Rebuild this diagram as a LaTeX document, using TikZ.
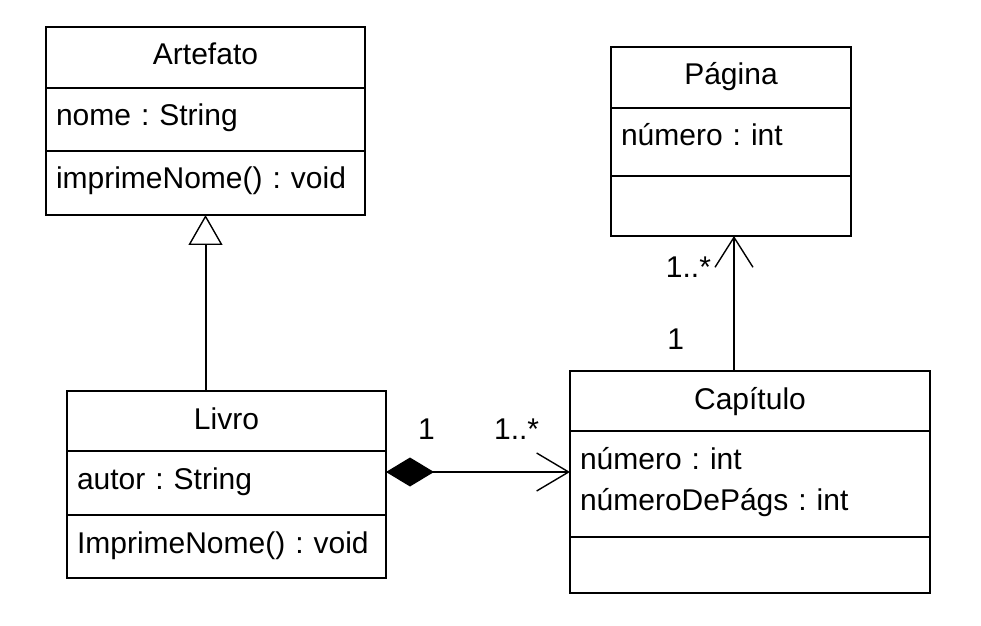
\documentclass[tikz,border=0pt]{standalone}
\usepackage{fontspec}
\setmainfont{Liberation Sans}
\frenchspacing
\usetikzlibrary{arrows.meta,positioning,calc}

\begin{document}
\begin{tikzpicture}[
  x=0.5pt, y=-0.5pt,
  font=\fontsize{15pt}{20.5pt}\selectfont,
  line width=1pt,
  cls/.style={draw, fill=white, inner xsep=5pt, inner ysep=0pt, outer sep=0pt,
              text height=19pt, anchor=north west},
  title/.style={cls, align=center},
  part/.style={cls, align=left},
  mult/.style={inner sep=0pt, anchor=base},
  gen/.style={-{Triangle[length=15pt, width=17pt, fill=white, line width=0.7pt]}},
  comp/.style={{Diamond[length=24pt, width=14.5pt]}-{Straight Barb[length=16pt, width=19pt, line width=0.7pt]}},
  nav/.style={-{Straight Barb[length=15pt, width=19pt, line width=0.7pt]}},
]
\useasboundingbox (0,0) rectangle (981,626);

% ---- Artefato ------------------------------------------------------------
\node[title, text width=149.5pt, text depth=11.5pt] (artefato) at (46,27) {Artefato};
\node[part, text width=149.5pt, text depth=12.5pt, below=0pt of artefato] (artefato-attr) {nome : String};
\node[part, text width=149.5pt, text depth=13pt, below=0pt of artefato-attr] (artefato-ops) {imprimeNome() : void};

% ---- Pagina --------------------------------------------------------------
\node[title, text width=110pt, text depth=11.5pt] (pagina) at (611,47) {Página};
\node[part, text width=110pt, text depth=15pt, below=0pt of pagina] (pagina-attr) {número : int};
\node[part, text width=110pt, text depth=11pt, below=0pt of pagina-attr] (pagina-ops) {};

% ---- Livro ---------------------------------------------------------------
\node[title, text width=149.5pt, text depth=11pt] (livro) at (67,391) {Livro};
\node[part, text width=149.5pt, text depth=13pt, below=0pt of livro] (livro-attr) {autor : String};
\node[part, text width=149.5pt, text depth=12.5pt, below=0pt of livro-attr] (livro-ops) {ImprimeNome() : void};

% ---- Capitulo ------------------------------------------------------------
\node[title, text width=170pt, text depth=11pt] (capitulo) at (570,371) {Capítulo};
\node[part, text width=170pt, text depth=34pt, below=0pt of capitulo] (capitulo-attr) {número : int\\númeroDePágs : int};
\node[part, text width=170pt, text depth=9pt, below=0pt of capitulo-attr] (capitulo-ops) {};

% ---- Livro is an Artefato ------------------------------------------------
\draw[gen] (artefato-ops.south |- livro.north) -- (artefato-ops.south);

% ---- Livro owns its Capitulos --------------------------------------------
\coordinate (comp-start) at ([yshift=-10.5pt]livro-attr.north east);
\draw[comp] (comp-start) -- (comp-start -| capitulo-attr.west)
  node[mult, pos=0.22, yshift=16.5pt] {1}
  node[mult, pos=0.71, yshift=16.5pt] {1..*};

% ---- Capitulo knows its Paginas ------------------------------------------
\coordinate (nav-end) at ([xshift=1.5pt]pagina-ops.south);
\draw[nav] (nav-end |- capitulo.north) -- (nav-end)
  node[mult, pos=0.694, anchor=base east, xshift=-11pt] {1..*}
  node[mult, pos=0.157, anchor=base east, xshift=-24.5pt] {1};

\end{tikzpicture}
\end{document}
